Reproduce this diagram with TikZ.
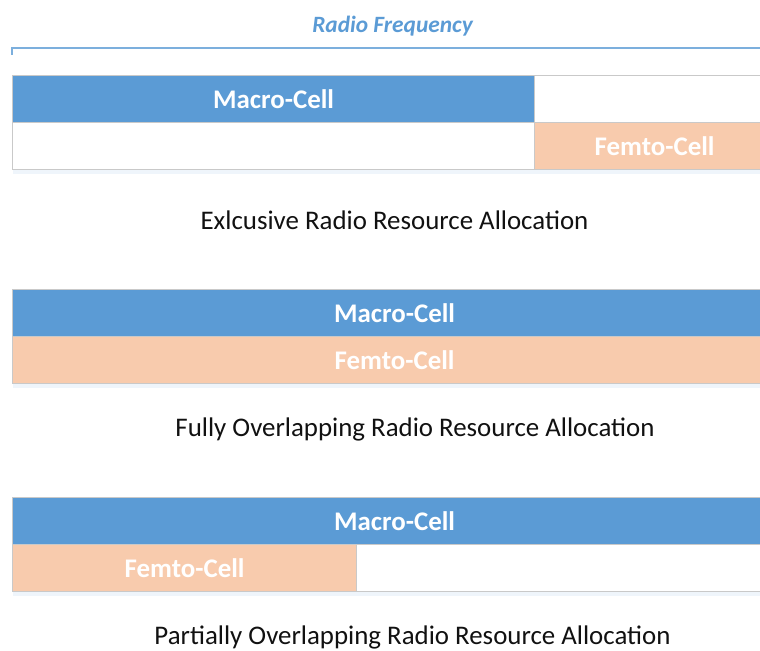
\documentclass[tikz,border=0pt]{standalone}
\usepackage{fontspec}
\setmainfont{Carlito}
\usepackage{xcolor}
\definecolor{macroblue}{HTML}{5B9BD5}
\definecolor{femtopeach}{HTML}{F8CBAD}
\definecolor{edgegray}{HTML}{C9C9C9}
\definecolor{capink}{HTML}{111111}
\begin{document}
\begin{tikzpicture}[every node/.style={font=\fontsize{13}{15}\selectfont},cell/.style={draw=edgegray,line width=.7pt,minimum height=.94cm,inner sep=0pt,anchor=north west,font=\fontsize{15.3}{17}\selectfont\bfseries,text=white},macro/.style={cell,fill=macroblue},femto/.style={cell,fill=femtopeach},blank/.style={cell,fill=white},caption/.style={text=capink,font=\fontsize{15.3}{18}\selectfont},shade/.style={macroblue!10}]
\useasboundingbox (0,0) rectangle (15.2,-13.02);\clip (0,0) rectangle (15.2,-13.02);
\node[font=\fontsize{13.3}{15}\selectfont\bfseries\itshape,text=macroblue] (rf) at (7.85,-.52){Radio Frequency};
\coordinate (bl) at (.24,-1.1);\coordinate (br) at (15.3,-.96);\draw[macroblue!80,line width=.6pt] (bl)|-(br);
\foreach \y in {-3.38,-7.66,-11.82}{\fill[shade] (.26,\y) rectangle (15.3,\y-.1);}
% exclusive
\node[macro,minimum width=10.44cm] (m1) at (.24,-1.5){Macro-Cell};\node[blank,minimum width=4.6cm] (w1) at (10.68,-1.5){};
\node[blank,minimum width=10.44cm] (w2) at (.24,-2.44){};\node[femto,minimum width=4.6cm] (f1) at (10.68,-2.44){\hspace*{.2cm}Femto-Cell};
\node[caption] (c1) at (7.89,-4.4){Exlcusive Radio Resource Allocation};
% fully overlapping
\node[macro,minimum width=15.04cm] (m2) at (.24,-5.78){\hspace*{.24cm}Macro-Cell};\node[femto,minimum width=15.04cm] (f2) at (.24,-6.72){\hspace*{.24cm}Femto-Cell};
\node[caption] (c2) at (8.3,-8.58){Fully Overlapping Radio Resource Allocation};
% partially overlapping
\node[macro,minimum width=15.04cm] (m3) at (.24,-9.94){\hspace*{.24cm}Macro-Cell};\node[femto,minimum width=6.88cm] (f3) at (.24,-10.88){Femto-Cell};\node[blank,minimum width=8.2cm] (w3) at (7.12,-10.88){};
\node[caption] (c3) at (8.25,-12.74){Partially Overlapping Radio Resource Allocation};
\end{tikzpicture}
\end{document}
